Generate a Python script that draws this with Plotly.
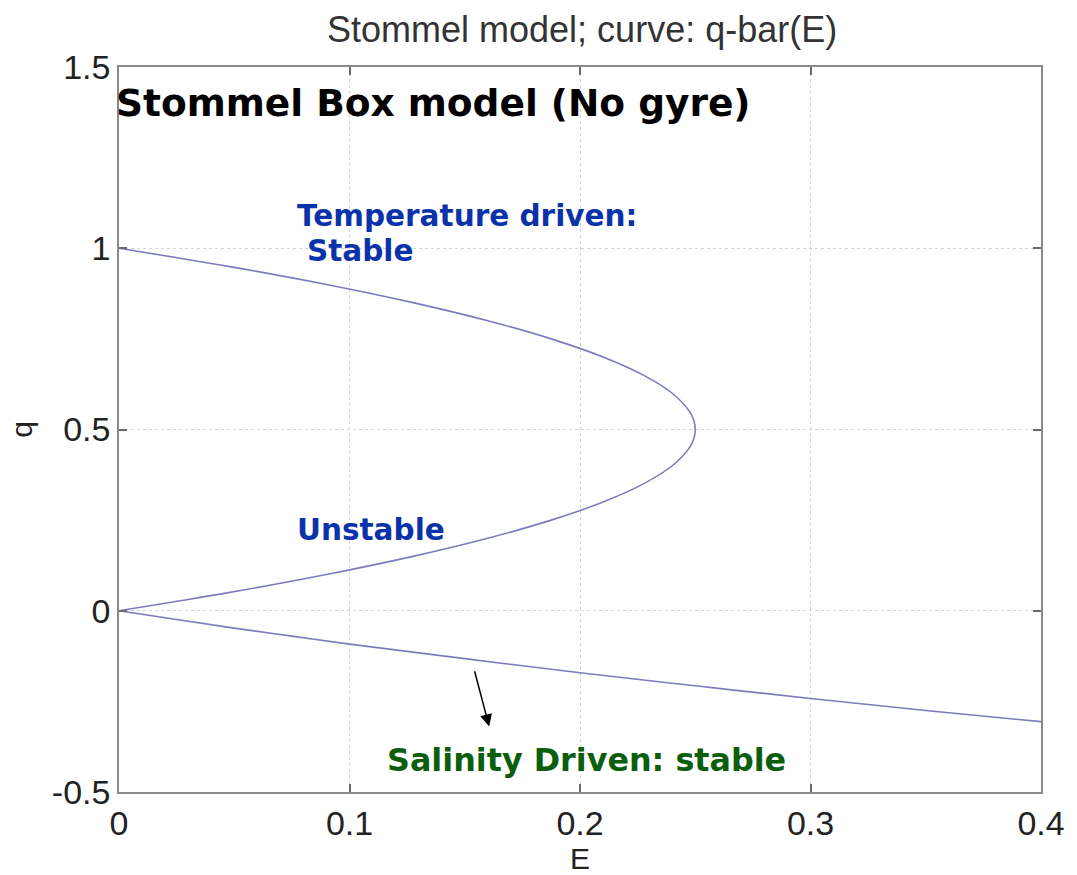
import plotly.graph_objects as go

# Upper (temperature-driven, stable) + middle (unstable) branch
branch_ab_q = [1.0, 0.975, 0.95, 0.9, 0.85, 0.8, 0.75, 0.7, 0.65, 0.6, 0.55, 0.525, 0.5,
               0.475, 0.45, 0.4, 0.35, 0.3, 0.25, 0.2, 0.15, 0.1, 0.05, 0.025, 0.0]
branch_ab_E = [0.0, 0.024, 0.0475, 0.09, 0.1275, 0.16, 0.1875, 0.21, 0.2275, 0.24, 0.2475, 0.2494, 0.25,
               0.2494, 0.2475, 0.24, 0.2275, 0.21, 0.1875, 0.16, 0.1275, 0.09, 0.0475, 0.024, 0.0]

# Lower (salinity-driven, stable) branch
branch_c_E = [0.0, 0.025, 0.05, 0.075, 0.1, 0.15, 0.2, 0.25, 0.3, 0.35, 0.4]
branch_c_q = [0.0, -0.024, -0.048, -0.07, -0.092, -0.132, -0.171, -0.207, -0.242, -0.275, -0.306]

x_ticks = [0, 0.1, 0.2, 0.3, 0.4]
x_tick_labels = ["0", "0.1", "0.2", "0.3", "0.4"]
y_ticks = [-0.5, 0, 0.5, 1, 1.5]
y_tick_labels = ["-0.5", "0", "0.5", "1", "1.5"]

line_color = "#7b7bbd"

fig = go.Figure()
fig.add_trace(go.Scatter(x=branch_ab_E, y=branch_ab_q, mode="lines",
                         line=dict(color=line_color, width=1.6, shape="spline"),
                         showlegend=False, hoverinfo="skip"))
fig.add_trace(go.Scatter(x=branch_c_E, y=branch_c_q, mode="lines",
                         line=dict(color=line_color, width=1.6, shape="spline"),
                         showlegend=False, hoverinfo="skip"))

ann_font = "DejaVu Sans"
blue = "#0a32aa"
green = "#0b5e0b"

fig.add_annotation(x=-0.005, y=0.951, xref="paper", yref="paper", text="<b>Stommel Box model (No gyre)</b>",
                   showarrow=False, xanchor="left", yanchor="middle",
                   font=dict(family=ann_font, size=37.5, color="#000000"))
fig.add_annotation(x=0.0763, y=1.088, xref="x", yref="y", text="<b>Temperature driven:</b>",
                   showarrow=False, xanchor="left", yanchor="middle",
                   font=dict(family=ann_font, size=29.5, color=blue))
fig.add_annotation(x=0.0808, y=0.992, xref="x", yref="y", text="<b>Stable</b>",
                   showarrow=False, xanchor="left", yanchor="middle",
                   font=dict(family=ann_font, size=29.5, color=blue))
fig.add_annotation(x=0.0763, y=0.2215, xref="x", yref="y", text="<b>Unstable</b>",
                   showarrow=False, xanchor="left", yanchor="middle",
                   font=dict(family=ann_font, size=29.5, color=blue))
fig.add_annotation(x=0.1154, y=-0.41, xref="x", yref="y", text="<b>Salinity Driven: stable</b>",
                   showarrow=False, xanchor="left", yanchor="middle",
                   font=dict(family=ann_font, size=31.8, color=green))
fig.add_annotation(x=0.1606, y=-0.319, xref="x", yref="y",
                   ax=0.1541, ay=-0.1626, axref="x", ayref="y", text="",
                   showarrow=True, arrowhead=2, arrowsize=1.6, arrowwidth=1.5, arrowcolor="#000000")

axis_common = dict(
    showline=True, linecolor="#8a8a8a", linewidth=1.5, mirror="ticks",
    ticks="inside", ticklen=8, tickcolor="#6a6a6a", tickwidth=1.5,
    showgrid=True, gridcolor="#d4d4d4", griddash="dot", gridwidth=1,
    zeroline=False,
    tickfont=dict(family="Liberation Sans", size=34, color="#222222"),
)

fig.update_xaxes(range=[0, 0.4], tickvals=x_ticks, ticktext=x_tick_labels,
                 title=dict(text="E", font=dict(family="Liberation Sans", size=30, color="#222222"), standoff=0),
                 **axis_common)
fig.update_yaxes(range=[-0.5, 1.5], tickvals=y_ticks, ticktext=y_tick_labels,
                 title=dict(text="q", font=dict(family="Liberation Sans", size=30, color="#222222"), standoff=10),
                 **axis_common)

fig.update_layout(
    width=1077, height=875,
    margin=dict(l=119, r=34, t=67, b=79),
    paper_bgcolor="white", plot_bgcolor="white",
    title=dict(text="Stommel model; curve: q-bar(E)", x=0.5405, xanchor="center", y=0.966, yanchor="middle",
               font=dict(family="Liberation Sans", size=36, color="#333333")),
)

fig.write_html("out.html")
